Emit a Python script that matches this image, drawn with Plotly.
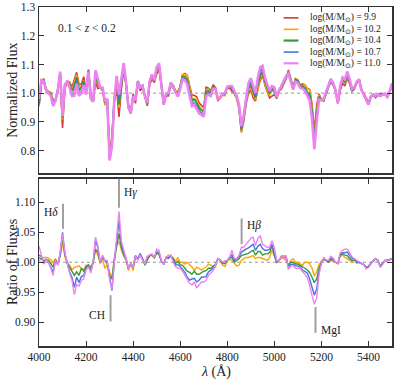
import numpy as np
import plotly.graph_objects as go

# ---------------- data ----------------
wavelength = list(range(4000, 5501, 10))  # Angstrom

# Top panel: normalized flux of the log(M)=11.0 stack (violet, drawn on top)
flux_11_0 = [
    0.980, 1.045, 1.040, 1.012, 1.000, 0.990, 0.955, 0.975, 1.010, 1.075,
    0.920, 1.030, 1.040, 1.020, 0.990, 0.990, 1.033, 0.990, 1.000, 1.028,
    0.995, 1.075, 0.980, 0.970, 1.080, 1.045, 1.020, 1.020, 0.970, 0.980,
    0.765, 0.815, 0.975, 1.060, 0.995, 1.050, 1.105, 1.035, 0.950, 0.930,
    0.990, 0.975, 1.040, 1.020, 1.025, 0.990, 0.965, 1.040, 1.065, 1.045,
    1.090, 1.105, 1.030, 0.960, 0.998, 1.000, 1.037, 1.020, 1.000, 0.988,
    1.015, 1.048, 1.045, 1.030, 0.990, 0.955, 0.960, 0.945, 0.930, 0.925,
    0.918, 0.990, 0.995, 0.990, 1.015, 1.015, 0.980, 0.985, 0.998, 1.000,
    1.022, 1.025, 1.025, 1.007, 0.990, 0.960, 0.885, 0.925, 0.990, 1.035,
    1.052, 1.025, 1.000, 1.055, 1.090, 1.095, 1.055, 1.030, 1.008, 1.025,
    1.020, 0.985, 1.010, 1.025, 1.040, 1.060, 1.068, 1.040, 1.012, 1.040,
    1.035, 1.018, 1.016, 1.008, 0.990, 0.975, 0.910, 0.805, 0.900, 0.978,
    0.975, 0.980, 1.005, 1.025, 1.050, 1.035, 1.010, 0.965, 1.025, 1.055,
    1.048, 1.075, 1.050, 1.015, 1.020, 1.040, 1.048, 1.012, 0.995, 0.975,
    0.960, 0.987, 0.995, 0.990, 0.995, 0.990, 0.993, 0.998, 0.988, 1.005,
    1.033,
]

# Bottom panel: ratio of fluxes relative to the lowest-mass stack (log M = 9.9)
ratio_10_2 = [
    1.003, 1.006, 1.008, 1.008, 1.007, 1.004, 0.999, 1.006, 0.998, 1.010,
    1.033, 1.009, 0.999, 0.995, 0.988, 0.991, 0.992, 0.994, 0.990, 0.987,
    0.995, 0.990, 0.993, 1.000, 1.020, 1.012, 0.998, 1.005, 0.990, 0.996,
    0.984, 0.973, 1.004, 1.028, 1.035, 1.020, 1.010, 1.003, 0.986, 0.998,
    0.986, 1.010, 1.005, 1.012, 1.004, 0.996, 1.005, 1.010, 1.012, 1.007,
    1.015, 1.012, 1.002, 0.998, 1.008, 1.012, 1.010, 1.008, 1.002, 1.008,
    1.000, 1.000, 0.997, 1.000, 0.996, 0.992, 0.986, 0.992, 0.990, 0.987,
    0.990, 0.992, 0.997, 0.995, 0.993, 0.992, 1.006, 1.003, 0.995, 0.993,
    1.003, 1.005, 1.003, 0.998, 0.994, 0.995, 1.003, 1.006, 1.008, 1.008,
    1.010, 1.011, 1.006, 1.008, 1.008, 1.006, 1.004, 1.003, 1.008, 1.020,
    1.010, 1.000, 1.003, 1.008, 1.006, 1.003, 0.995, 1.003, 1.006, 1.000,
    1.000, 0.997, 0.995, 1.000, 1.000, 0.998, 0.990, 0.977, 0.984, 0.996,
    1.002, 1.005, 1.003, 1.000, 1.003, 1.002, 1.000, 0.998, 1.010, 1.012,
    1.008, 1.006, 1.003, 1.000, 1.004, 0.998, 1.000, 0.998, 0.996, 0.991,
    0.993, 0.998, 1.003, 1.006, 1.003, 0.993, 0.998, 1.003, 1.003, 1.004,
    1.006,
]
ratio_10_4 = [
    1.008, 1.006, 1.003, 1.004, 1.003, 0.998, 0.992, 1.004, 0.997, 1.012,
    1.042, 1.014, 0.998, 0.992, 0.986, 0.978, 0.984, 0.978, 0.990, 0.985,
    0.993, 0.996, 0.990, 1.000, 1.022, 1.017, 1.000, 1.008, 1.003, 0.998,
    0.978, 0.972, 1.006, 1.030, 1.048, 1.025, 1.013, 1.006, 0.989, 0.998,
    0.992, 1.011, 1.005, 1.014, 1.006, 0.995, 1.005, 1.012, 1.012, 1.008,
    1.016, 1.014, 1.002, 0.997, 1.008, 1.008, 1.010, 1.006, 0.998, 1.002,
    0.996, 0.995, 0.990, 0.985, 0.983, 0.980, 0.985, 0.980, 0.980, 0.983,
    0.985, 0.986, 0.990, 0.990, 0.993, 0.996, 1.006, 1.003, 0.998, 0.998,
    1.003, 1.007, 1.008, 1.000, 1.003, 1.006, 1.011, 1.012, 1.014, 1.015,
    1.018, 1.020, 1.012, 1.018, 1.018, 1.012, 1.014, 1.014, 1.016, 1.028,
    1.012, 1.000, 1.003, 1.009, 1.009, 1.008, 0.993, 1.000, 1.000, 0.997,
    0.997, 0.995, 0.992, 0.990, 0.987, 0.983, 0.975, 0.966, 0.972, 0.990,
    1.000, 1.005, 1.003, 1.000, 1.005, 1.004, 1.000, 0.998, 1.012, 1.014,
    1.012, 1.011, 1.006, 1.003, 1.004, 1.000, 1.000, 0.998, 0.996, 0.991,
    0.993, 0.998, 1.003, 1.006, 1.003, 0.993, 0.998, 1.003, 1.003, 1.004,
    1.006,
]
ratio_10_7 = [
    1.012, 1.010, 1.000, 1.005, 1.000, 0.993, 0.984, 1.002, 0.996, 1.015,
    1.050, 1.013, 0.998, 0.984, 0.975, 0.958, 0.975, 0.966, 0.976, 0.978,
    0.990, 0.995, 0.985, 1.000, 1.036, 1.025, 1.000, 1.010, 1.003, 1.000,
    0.975, 0.953, 1.000, 1.040, 1.070, 1.030, 1.015, 1.006, 0.989, 0.998,
    0.992, 1.011, 1.005, 1.014, 1.006, 0.997, 1.008, 1.012, 1.012, 1.008,
    1.018, 1.016, 1.002, 0.996, 1.008, 1.006, 1.012, 1.002, 0.995, 0.996,
    0.993, 0.988, 0.983, 0.975, 0.970, 0.972, 0.973, 0.967, 0.970, 0.975,
    0.975, 0.976, 0.984, 0.987, 0.990, 0.996, 1.006, 1.004, 1.000, 1.002,
    1.003, 1.008, 1.012, 1.003, 1.006, 1.009, 1.017, 1.020, 1.022, 1.024,
    1.027, 1.030, 1.020, 1.027, 1.030, 1.023, 1.020, 1.020, 1.022, 1.030,
    1.014, 1.001, 1.003, 1.010, 1.010, 1.010, 0.990, 0.996, 0.997, 0.994,
    0.994, 0.992, 0.987, 0.985, 0.982, 0.972, 0.960, 0.945, 0.955, 0.985,
    0.998, 1.006, 1.003, 1.001, 1.008, 1.005, 1.000, 0.998, 1.014, 1.016,
    1.016, 1.017, 1.011, 1.006, 1.006, 1.000, 1.000, 0.998, 0.996, 0.991,
    0.993, 0.998, 1.003, 1.006, 1.003, 0.993, 0.998, 1.003, 1.003, 1.004,
    1.006,
]
ratio_11_0 = [
    1.027, 1.012, 0.997, 1.004, 1.000, 0.990, 0.978, 1.003, 0.995, 1.017,
    1.047, 1.016, 0.998, 0.982, 0.970, 0.946, 0.963, 0.960, 0.970, 0.972,
    0.987, 0.993, 0.982, 1.000, 1.042, 1.028, 1.000, 1.012, 1.003, 1.003,
    0.970, 0.955, 1.000, 1.050, 1.085, 1.035, 1.022, 1.006, 0.989, 0.998,
    0.992, 1.011, 1.003, 1.012, 1.004, 0.997, 1.010, 1.012, 1.014, 1.008,
    1.022, 1.020, 1.002, 0.996, 1.008, 1.010, 1.012, 1.000, 0.993, 0.990,
    0.990, 0.985, 0.978, 0.970, 0.965, 0.962, 0.967, 0.957, 0.962, 0.967,
    0.967, 0.970, 0.978, 0.982, 0.986, 0.996, 1.006, 1.004, 1.000, 1.002,
    1.003, 1.009, 1.020, 1.006, 1.006, 1.012, 1.025, 1.025, 1.030, 1.035,
    1.040, 1.042, 1.028, 1.040, 1.044, 1.030, 1.027, 1.025, 1.025, 1.036,
    1.025, 1.003, 1.003, 1.010, 1.010, 1.010, 0.988, 0.994, 0.994, 0.990,
    0.990, 0.990, 0.984, 0.980, 0.974, 0.962, 0.945, 0.930, 0.940, 0.980,
    0.998, 1.008, 1.004, 1.003, 1.010, 1.007, 1.000, 0.998, 1.016, 1.020,
    1.022, 1.022, 1.016, 1.009, 1.006, 1.003, 1.000, 0.998, 0.996, 0.989,
    0.991, 0.998, 1.003, 1.006, 1.003, 0.991, 0.996, 1.003, 1.003, 1.004,
    1.006,
]
ratio_9_9 = [1.0] * len(wavelength)  # reference stack (not drawn in lower panel)

mass_labels = ["9.9", "10.2", "10.4", "10.7", "11.0"]
colors = ["#d43a3a", "#ffa500", "#3a9a3a", "#4472e8", "#ee82ee"]
ratios = [ratio_9_9, ratio_10_2, ratio_10_4, ratio_10_7, ratio_11_0]

# Individual normalized spectra: F_M = F_11.0 * ratio_M / ratio_11.0
f11 = np.array(flux_11_0)
r11 = np.array(ratio_11_0)
fluxes = [f11 * np.array(r) / r11 for r in ratios]

feature_names = ["H<i>δ</i>", "CH", "H<i>γ</i>", "H<i>β</i>", "MgI"]
feature_wavelengths = [4102, 4304, 4340, 4861, 5175]

# ---------------- figure ----------------
FONT = "Liberation Serif"
TXT = "#222222"
fig = go.Figure()

top_widths = [1.6, 1.6, 2.0, 1.6, 2.6]
for lab, col, fl, w in zip(mass_labels, colors, fluxes, top_widths):
    fig.add_trace(go.Scatter(
        x=wavelength, y=fl, mode="lines", line=dict(color=col, width=w),
        name=f"log(M/M<sub>⊙</sub>) = {lab}", xaxis="x", yaxis="y",
        showlegend=False, hoverinfo="skip"))

for lab, col, r in list(zip(mass_labels, colors, ratios))[1:]:
    fig.add_trace(go.Scatter(
        x=wavelength, y=r, mode="lines", line=dict(color=col, width=1.4),
        xaxis="x2", yaxis="y2", showlegend=False, hoverinfo="skip"))

axis_common = dict(
    showline=True, linecolor="#333333", linewidth=1.5, mirror="ticks",
    ticks="inside", ticklen=5, tickwidth=1, tickcolor="#333333",
    showgrid=False, zeroline=False, ticklabeloverflow="allow",
    tickfont=dict(family=FONT, size=11.5, color=TXT),
)

fig.update_layout(
    width=395, height=380,
    margin=dict(l=39, r=1, t=4, b=34),
    paper_bgcolor="white", plot_bgcolor="white",
    font=dict(family=FONT, color=TXT),
    showlegend=False, hovermode=False,
    xaxis=dict(domain=[0, 1], range=[4000, 5500], anchor="y",
               tickvals=list(range(4000, 5501, 200)), showticklabels=False,
               **axis_common),
    yaxis=dict(domain=[0.509, 1], range=[0.72, 1.3005], anchor="x",
               tickvals=[0.8, 0.9, 1.0, 1.1, 1.2, 1.3], tickformat=".1f",
               **axis_common),
    xaxis2=dict(domain=[0, 1], range=[4000, 5500], anchor="y2",
                tickvals=list(range(4000, 5501, 200)),
                **axis_common),
    yaxis2=dict(domain=[0, 0.494], range=[0.86, 1.14], anchor="x2",
                tickvals=[0.90, 0.95, 1.00, 1.05, 1.10], tickformat=".2f",
                **axis_common),
)

# hand-made compact legend (matplotlib-like spacing)
legend_rows_y = [0.968, 0.934, 0.901, 0.867, 0.834]
for lab, col, ly in zip(mass_labels, colors, legend_rows_y):
    fig.add_shape(type="line", xref="paper", yref="paper",
                  x0=0.693, x1=0.735, y0=ly, y1=ly,
                  line=dict(color=col, width=2.2 if col in ("#3a9a3a", "#ee82ee") else 1.6))
    fig.add_annotation(x=0.762, y=ly, xref="paper", yref="paper",
                       text=f"log(M/M<sub>⊙</sub>) = {lab}", showarrow=False,
                       xanchor="left", yanchor="middle",
                       font=dict(family=FONT, size=9.5, color=TXT))

# dotted unity lines
for ax in ["y", "y2"]:
    fig.add_shape(type="line", xref="x domain" if ax == "y" else "x2 domain",
                  yref=ax, x0=0, x1=1, y0=1.0, y1=1.0,
                  line=dict(color="#999999", width=1, dash="dot"), layer="below")

# feature markers in the lower panel
line_ext = {"H<i>δ</i>": (1.056, 1.098), "CH": (0.901, 0.945),
            "H<i>γ</i>": (1.091, 1.14), "H<i>β</i>": (1.030, 1.073),
            "MgI": (0.882, 0.925)}
label_pos = {"H<i>δ</i>": (-3, 1.084, "right"), "CH": (-4, 0.911, "right"),
             "H<i>γ</i>": (3, 1.116, "left"), "H<i>β</i>": (3, 1.061, "left"),
             "MgI": (3, 0.886, "left")}
for name, wl in zip(feature_names, feature_wavelengths):
    y0, y1 = line_ext[name]
    fig.add_shape(type="line", xref="x2", yref="y2", x0=wl, x1=wl, y0=y0, y1=y1,
                  line=dict(color="#a0a0a0", width=2))
    dx, ly, side = label_pos[name]
    fig.add_annotation(x=wl, y=ly, xref="x2", yref="y2", text=name,
                       showarrow=False, xanchor=side, yanchor="middle",
                       xshift=dx, font=dict(family=FONT, size=11.5, color=TXT))

# texts
fig.add_annotation(x=0.047, y=0.938, xref="paper", yref="paper",
                   text="0.1 &lt; <i>z</i> &lt; 0.2", showarrow=False,
                   xanchor="left", yanchor="middle",
                   font=dict(family=FONT, size=11.5, color=TXT))
fig.add_annotation(x=-0.077, y=0.755, xref="paper", yref="paper",
                   text="Normalized Flux", textangle=-90, showarrow=False,
                   xanchor="center", yanchor="middle",
                   font=dict(family=FONT, size=14, color=TXT))
fig.add_annotation(x=-0.077, y=0.247, xref="paper", yref="paper",
                   text="Ratio of Fluxes", textangle=-90, showarrow=False,
                   xanchor="center", yanchor="middle",
                   font=dict(family=FONT, size=14, color=TXT))
fig.add_annotation(x=0.5, y=-0.076, xref="paper", yref="paper",
                   text="<i>λ</i> (Å)", showarrow=False,
                   xanchor="center", yanchor="middle",
                   font=dict(family=FONT, size=14, color=TXT))

fig.write_html("out.html", config={"displayModeBar": False, "staticPlot": True},
               post_script="document.body.style.margin='0';"
                           "document.body.style.overflow='hidden';")
